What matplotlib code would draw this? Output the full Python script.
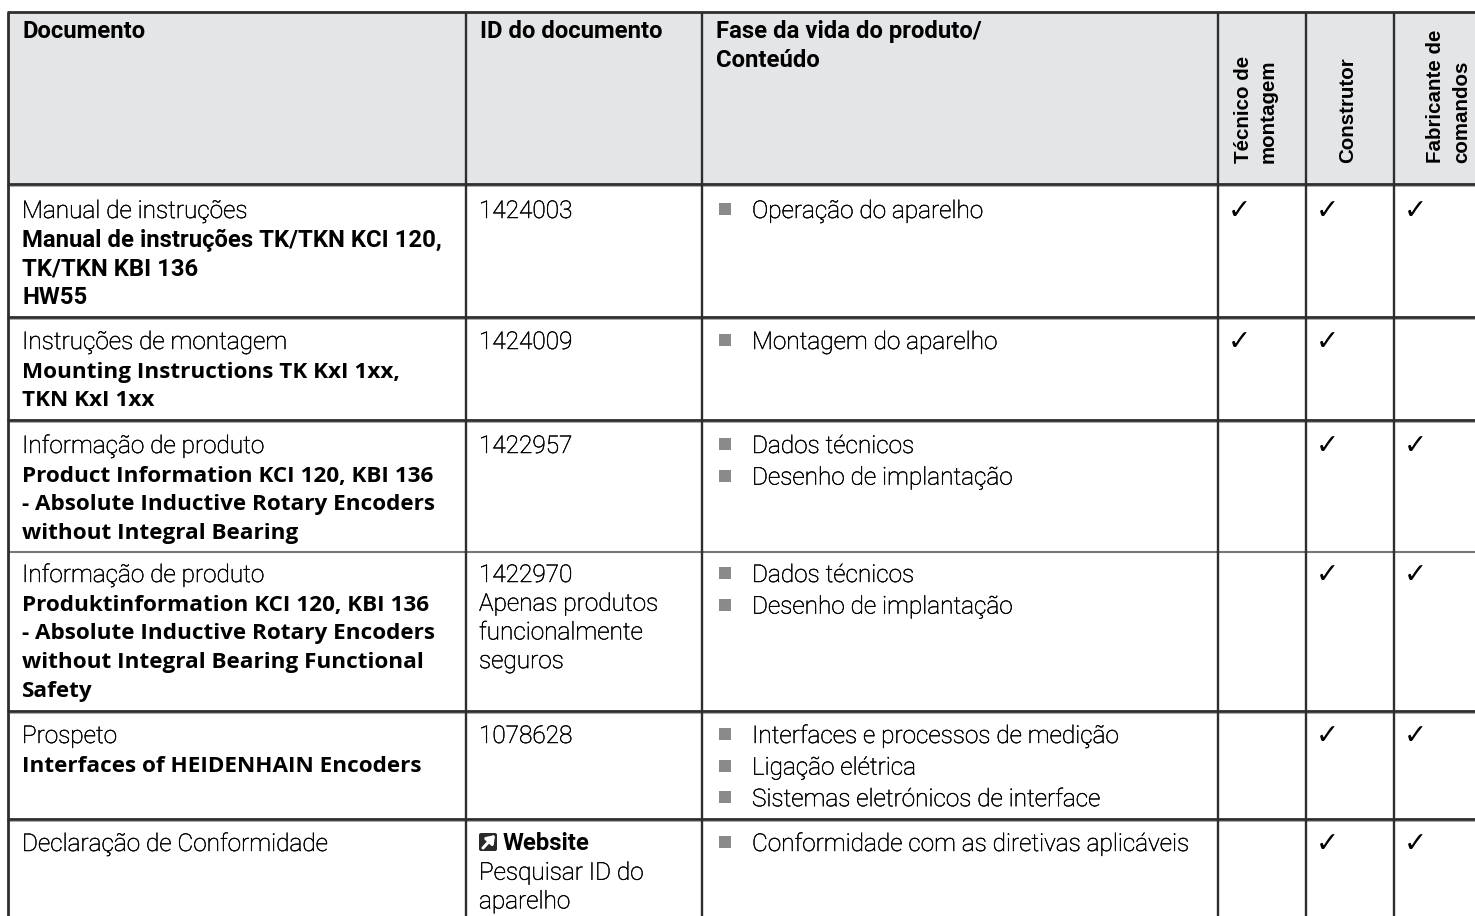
import matplotlib
matplotlib.use("Agg")
import matplotlib.patheffects as pe
import matplotlib.pyplot as plt
from matplotlib.patches import FancyBboxPatch, Rectangle

# table content
headers = ["Documento", "ID do documento", "Fase da vida do produto/\nConteúdo"]
role_headers = [["Técnico de", "montagem"], ["Construtor"], ["Fabricante de", "comandos"]]

doc_types = [
    "Manual de instruções",
    "Instruções de montagem",
    "Informação de produto",
    "Informação de produto",
    "Prospeto",
    "Declaração de Conformidade",
]
doc_titles = [
    ["Manual de instruções TK/TKN KCI 120,", "TK/TKN KBI 136", "HW55"],
    ["Mounting Instructions TK KxI 1xx,", "TKN KxI 1xx"],
    ["Product Information KCI 120, KBI 136", "- Absolute Inductive Rotary Encoders", "without Integral Bearing"],
    ["Produktinformation KCI 120, KBI 136", "- Absolute Inductive Rotary Encoders", "without Integral Bearing Functional", "Safety"],
    ["Interfaces of HEIDENHAIN Encoders"],
    [],
]
doc_ids = [
    ["1424003"],
    ["1424009"],
    ["1422957"],
    ["1422970", "Apenas produtos", "funcionalmente", "seguros"],
    ["1078628"],
    ["Pesquisar ID do", "aparelho"],
]
contents = [
    ["Operação do aparelho"],
    ["Montagem do aparelho"],
    ["Dados técnicos", "Desenho de implantação"],
    ["Dados técnicos", "Desenho de implantação"],
    ["Interfaces e processos de medição", "Ligação elétrica", "Sistemas eletrónicos de interface"],
    ["Conformidade com as diretivas aplicáveis"],
]
checks = [
    [1, 1, 1],
    [1, 1, 0],
    [0, 1, 1],
    [0, 1, 1],
    [0, 1, 1],
    [0, 1, 1],
]

# grid in pixels
col_x = [8, 466, 702, 1218, 1306, 1394]
row_y = [12, 184, 317, 420, 552, 711, 819]
first_base = [218, 349, 453, 582, 743, 851]
title_pitch = 28.7
bullet_pitch = 31.6

line_col = "#2e2e2e"
thicken = [pe.withStroke(linewidth=0.35, foreground="#000000")]
light = dict(family="Roboto", weight="light", fontsize=17.55, color="#000000", path_effects=thicken)
bold = dict(family="Roboto", weight="bold", fontsize=17.2, color="#000000")
open_bold = dict(family="Open Sans", weight="bold", fontsize=16.2, color="#000000")

fig = plt.figure(figsize=(14.75, 9.16), dpi=100)
ax = fig.add_axes([0, 0, 1, 1])
ax.set_xlim(0, 1475)
ax.set_ylim(916, 0)
ax.axis("off")

ax.add_patch(Rectangle((col_x[0], row_y[0]), 1475 - col_x[0], row_y[1] - row_y[0], fc="#e4e5e7", ec="none", zorder=0))

# header
for x, h in zip(col_x[:3], headers):
    for i, part in enumerate(h.split("\n")):
        ax.text(x + 14, 38 + i * 29, part, va="baseline", **bold)

role_base = [[1249, 1274], [1353], [1441, 1467]]
for names, bases in zip(role_headers, role_base):
    for name, bx in zip(names, bases):
        ax.text(bx, 163, name, rotation=90, rotation_mode="anchor", ha="left", va="baseline",
                family="Liberation Sans", weight="bold", fontsize=14.8, color="#000000")

# rows
for r in range(6):
    base = first_base[r]
    ax.text(col_x[0] + 14, base, doc_types[r], va="baseline", **light)
    for i, t in enumerate(doc_titles[r]):
        style = bold if r == 0 else open_bold
        ax.text(col_x[0] + 14, base + (i + 1) * title_pitch, t, va="baseline", **style)

    if r < 5:
        for i, t in enumerate(doc_ids[r]):
            ax.text(col_x[1] + 13, base + i * title_pitch, t, va="baseline", **light)
    else:
        ax.add_patch(FancyBboxPatch((479, 833), 18, 18, boxstyle="round,pad=0,rounding_size=2", fc="#2a2a2a", ec="none"))
        ax.annotate("", xy=(495, 835), xytext=(483, 848),
                    arrowprops=dict(arrowstyle="-|>,head_width=0.32,head_length=0.45", color="white", lw=2.2, shrinkA=0, shrinkB=0))
        ax.text(503, base - 1, "Website", va="baseline", **bold)
        for i, t in enumerate(doc_ids[r]):
            ax.text(col_x[1] + 13, base + (i + 1) * title_pitch, t, va="baseline", **light)

    for i, t in enumerate(contents[r]):
        y = base + i * bullet_pitch
        ax.add_patch(Rectangle((719, y - 15), 12, 12, fc="#8a8a8a", ec="none"))
        ax.text(752, y, t, va="baseline", **light)

    for c, on in enumerate(checks[r]):
        if on:
            ax.text(col_x[3 + c] + 10, base + 1, "✓", va="baseline", ha="left",
                    family="DejaVu Sans", fontsize=20, color="#000000")

# rules
for x in col_x:
    w = 2.0 if x == col_x[0] else 1.7
    ax.plot([x, x], [row_y[0], 916], color=line_col, lw=w, solid_capstyle="butt", zorder=3)
for i, y in enumerate(row_y):
    if i == 4:
        ax.plot([col_x[0], 1475], [y, y], color="#777777", lw=1.5, solid_capstyle="butt", zorder=2)
    else:
        ax.plot([col_x[0] - 1, 1475], [y, y], color=line_col, lw=2.0, solid_capstyle="butt", zorder=2)
        if i > 0:
            ax.plot([col_x[0], 1475], [y + 2, y + 2], color="#a8a8a8", lw=0.7, solid_capstyle="butt", zorder=1.5)

fig.savefig("out.png", dpi=100)
